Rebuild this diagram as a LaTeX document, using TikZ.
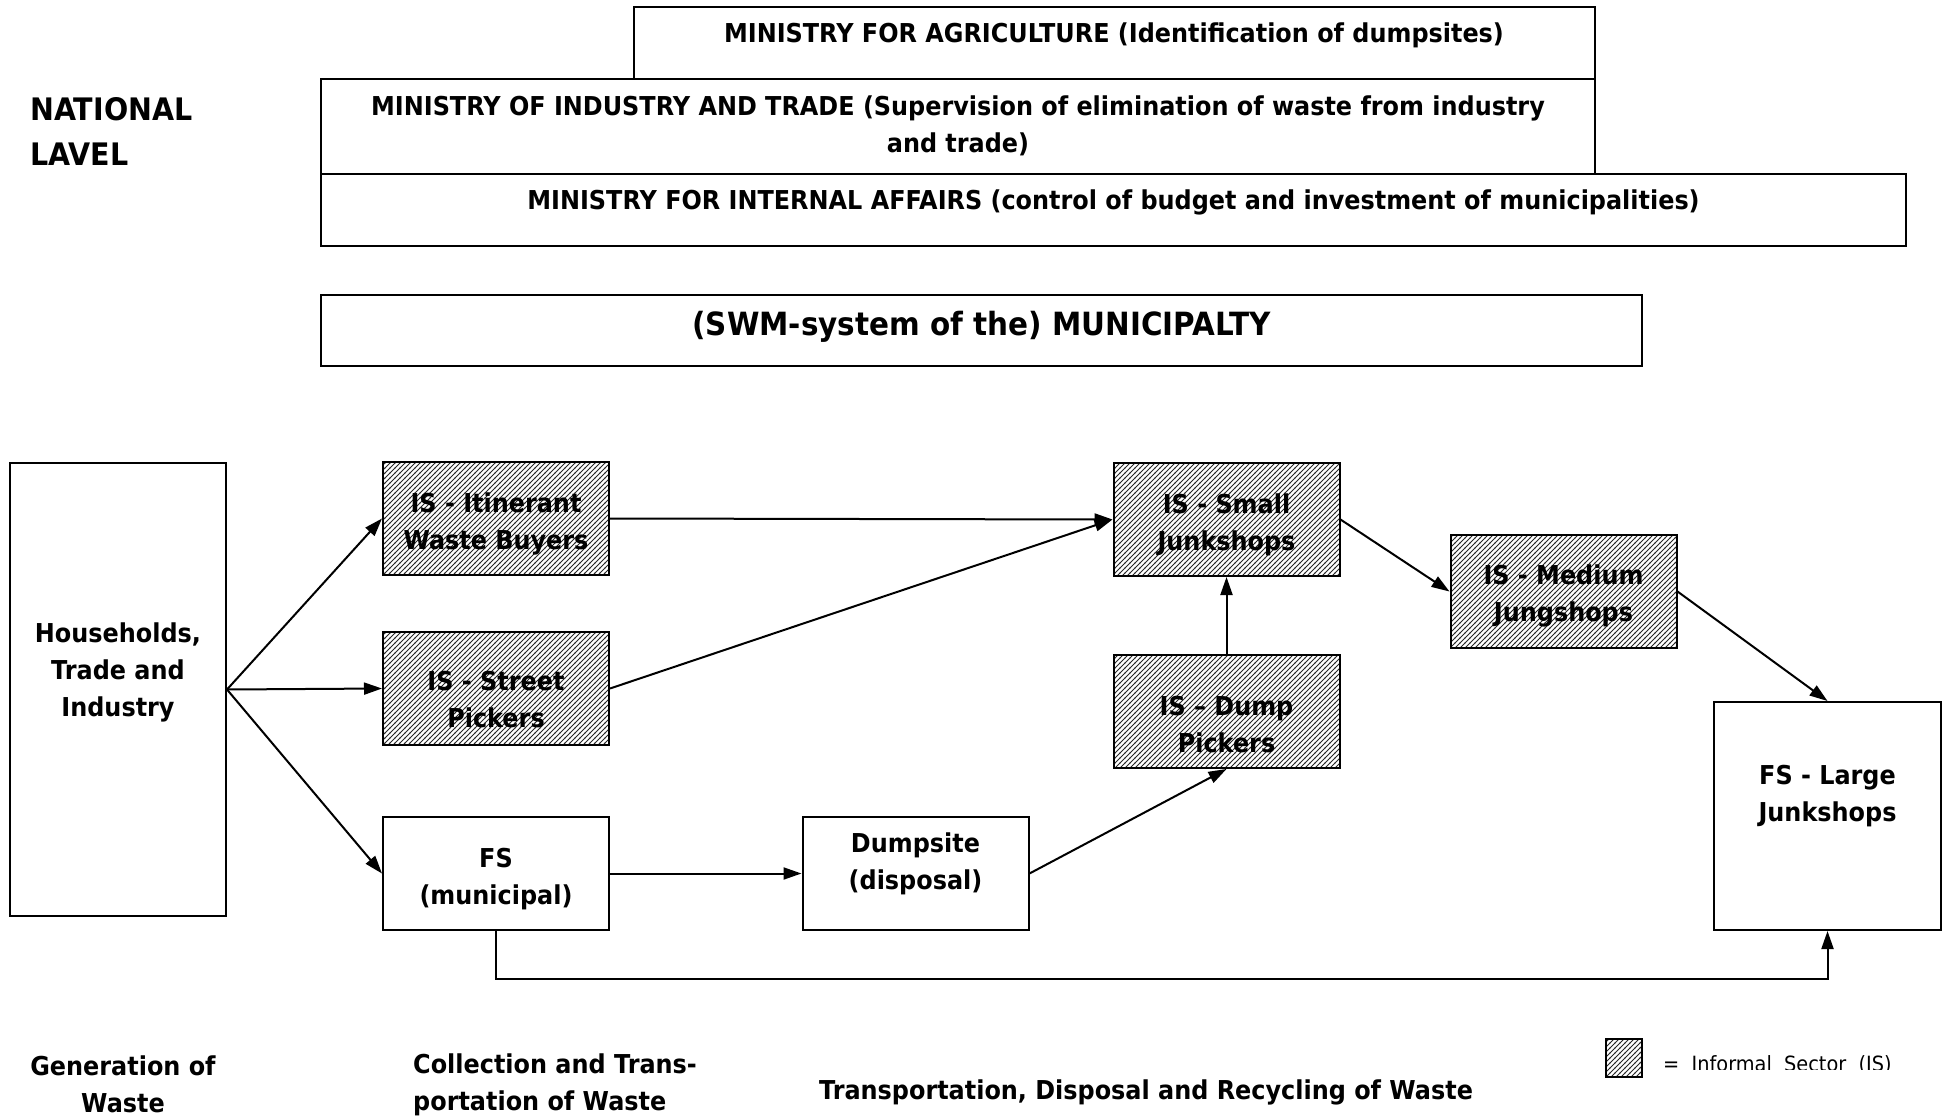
\documentclass[tikz,border=0pt]{standalone}
\usepackage{fontspec}
\setmainfont{DejaVu Sans}[FakeStretch=0.92]
\usetikzlibrary{arrows.meta,patterns}
\pgfdeclarepatternformonly{hatch}{\pgfqpoint{-1pt}{-1pt}}{\pgfqpoint{6pt}{6pt}}{\pgfqpoint{5pt}{5pt}}{%
  \pgfsetlinewidth{1.0pt}%
  \pgfpathmoveto{\pgfqpoint{-0.5pt}{-0.5pt}}%
  \pgfpathlineto{\pgfqpoint{5.5pt}{5.5pt}}%
  \pgfusepath{stroke}}
\tikzset{
  box/.style={draw, line width=2, fill=white, inner sep=0},
  hbox/.style={draw, line width=2, pattern=hatch, pattern color=black!85, inner sep=0},
  lbl/.style={font=\fontsize{26}{37}\selectfont\bfseries, align=center, inner sep=0},
  mlbl/.style={font=\fontsize{26}{37}\selectfont\bfseries, align=center, inner sep=0},
  arr/.style={line width=2, -{Triangle[length=18,width=12]}},
  smallbox/.style={minimum width=226, minimum height=113},
}
\begin{document}
\begin{tikzpicture}[x=1pt,y=-1pt]
\useasboundingbox (0,0) rectangle (1946,1118);

% national level
\node[font=\fontsize{31}{45}\selectfont\bfseries, align=left, inner sep=0, anchor=west] (nat) at (30,131.5) {NATIONAL\\LAVEL};

% ministries
\node[box, minimum width=961, minimum height=72] (agri) at (1114.5,43) {};
\node[mlbl] (agriT) at (1114,35) {MINISTRY FOR AGRICULTURE (Identification of dumpsites)};
\node[box, minimum width=1274, minimum height=95] (ind) at (958,126.5) {};
\node[mlbl] (indT) at (958,125.5) {MINISTRY OF INDUSTRY AND TRADE (Supervision of elimination of waste from industry\\and trade)};
\node[box, minimum width=1585, minimum height=72] (int) at (1113.5,210) {};
\node[mlbl] (intT) at (1113.5,202) {MINISTRY FOR INTERNAL AFFAIRS (control of budget and investment of municipalities)};

% municipality
\node[box, minimum width=1321, minimum height=71] (mun) at (981.5,330.5) {};
\node[font=\fontsize{32}{40}\selectfont\bfseries, inner sep=0] (munT) at (981.5,327) {(SWM-system of the) MUNICIPALTY};

% flow boxes
\node[box, minimum width=216, minimum height=453] (hh) at (118,689.5) {};
\node[lbl] (hhT) at (118,672) {Households,\\Trade and\\Industry};

\node[hbox, smallbox] (itin) at (496,518.5) {};
\node[lbl] (itinT) at (496,523.5) {IS - Itinerant\\Waste Buyers};
\node[hbox, smallbox] (street) at (496,688.5) {};
\node[lbl] (streetT) at (496,700) {IS - Street\\Pickers};
\node[box, smallbox] (fsm) at (496,873.5) {};
\node[lbl] (fsmT) at (496,879) {FS\\(municipal)};
\node[box, smallbox] (dump) at (915.5,873.5) {};
\node[lbl] (dumpT) at (915.5,864) {Dumpsite\\(disposal)};
\node[hbox, smallbox] (small) at (1226.5,519.5) {};
\node[lbl] (smallT) at (1226.5,525) {IS - Small\\Junkshops};
\node[hbox, smallbox] (dpick) at (1226.5,711.5) {};
\node[lbl] (dpickT) at (1226.5,725) {IS -- Dump\\Pickers};
\node[hbox, smallbox] (med) at (1563.5,591.5) {};
\node[lbl] (medT) at (1563.5,596) {IS - Medium\\Jungshops};
\node[box, minimum width=227, minimum height=228] (large) at (1827.5,816) {};
\node[lbl] (largeT) at (1827.5,796.5) {FS - Large\\Junkshops};

% connectors
\draw[arr] (hh.east) -- (itin.west);
\draw[arr] (hh.east) -- (street.west);
\draw[arr] (hh.east) -- (fsm.west);
\draw[arr] (itin.east) -- (small.west);
\draw[arr] (street.east) -- (small.west);
\draw[arr] (fsm.east) -- (dump.west);
\draw[arr] (dump.east) -- (dpick.south);
\draw[arr] (dpick.north) -- (small.south);
\draw[arr] (small.east) -- (med.west);
\draw[arr] (med.east) -- (large.north);
\draw[arr] (fsm.south) -- ++(0,48) -| (large.south);

% bottom labels
\node[lbl] (gen) at (123,1084.5) {Generation of\\Waste};
\node[lbl, align=left, anchor=west] (coll) at (413,1084.5) {Collection and Trans-\\portation of Waste};
\node[lbl] (trans) at (1146,1092) {Transportation, Disposal and Recycling of Waste};

% legend
\node[draw, line width=2, pattern=hatch, pattern color=black!85, minimum width=36, minimum height=38, inner sep=0] (legbox) at (1624,1058) {};
\begin{scope}
\clip (1650,1000) rectangle (1946,1069);
\node[font=\fontsize{21}{26}\selectfont, inner sep=0, anchor=base west] (legT) at (1663,1071) {=\ \ Informal\ \ Sector\ \ (IS)};
\end{scope}
\end{tikzpicture}
\end{document}
